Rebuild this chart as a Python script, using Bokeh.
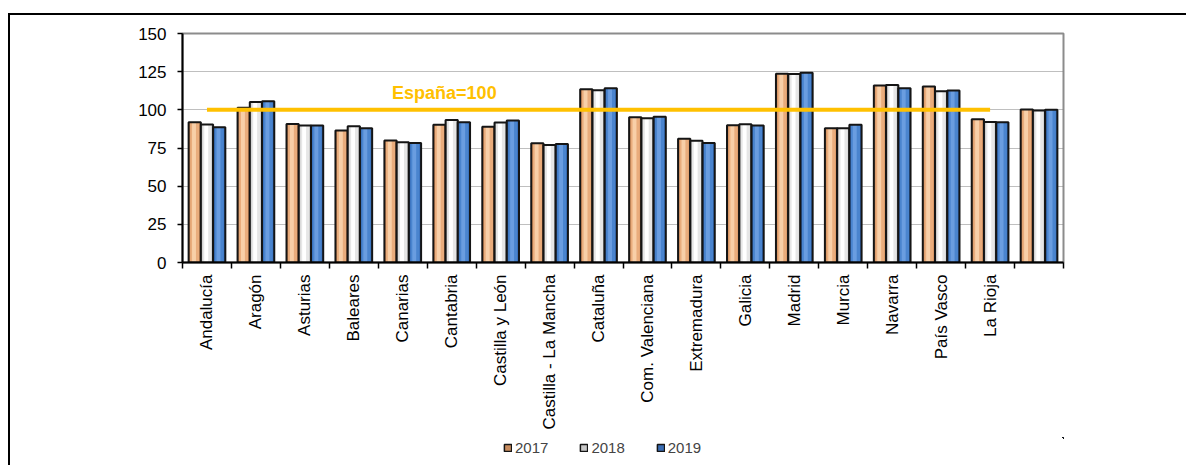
import math
from bokeh.plotting import figure
from bokeh.layouts import column, row
from bokeh.models import (FixedTicker, Legend, LegendItem, Range1d, Label, ColumnDataSource,
                          Spacer)
from bokeh.embed import file_html
from bokeh.resources import INLINE

regions = ["Andalucía", "Aragón", "Asturias", "Baleares", "Canarias", "Cantabria",
           "Castilla y León", "Castilla - La Mancha", "Cataluña", "Com. Valenciana",
           "Extremadura", "Galicia", "Madrid", "Murcia", "Navarra", "País Vasco",
           "La Rioja", ""]
v2017 = [91.9, 101.3, 90.8, 86.4, 79.9, 90.2, 89.0, 78.1, 113.5, 95.2, 81.0, 89.9,
         123.6, 87.9, 116.0, 115.3, 93.8, 100.2]
v2018 = [90.4, 105.2, 89.7, 89.2, 78.7, 93.4, 91.7, 77.0, 112.9, 94.5, 79.7, 90.6,
         123.4, 87.9, 116.2, 112.2, 92.0, 99.6]
v2019 = [88.6, 105.6, 89.7, 87.9, 78.3, 91.9, 93.0, 77.7, 114.2, 95.4, 78.3, 89.7,
         124.3, 90.2, 114.2, 112.7, 91.8, 100.0]
years = ["2017", "2018", "2019"]
y_ticks = [0, 25, 50, 75, 100, 125, 150]
spain_base = 100
spain_label = "España=100"
line_from, line_to = "Andalucía", "La Rioja"

FONT = "Liberation Sans"
n = len(regions)

p = figure(width=1178, height=422, x_range=Range1d(0, n), y_range=Range1d(0, 150),
           output_backend="svg", toolbar_location=None,
           min_border_left=172, min_border_right=125, min_border_top=18,
           min_border_bottom=175)
p.background_fill_color = "white"
p.border_fill_color = "white"
p.outline_line_color = "#8c8c8c"
p.outline_line_width = 2

# axes
xa = p.xaxis[0]
xa.ticker = FixedTicker(ticks=[i + 0.5 for i in range(n)], minor_ticks=list(range(n + 1)))
xa.major_label_overrides = {i + 0.5: name for i, name in enumerate(regions)}
xa.major_tick_out = 0
xa.major_tick_in = 0
xa.minor_tick_out = 6
xa.minor_tick_in = 0
xa.minor_tick_line_color = "black"
xa.minor_tick_line_width = 1.5
xa.axis_line_color = "black"
xa.axis_line_width = 2
xa.major_label_orientation = math.pi / 2
xa.major_label_standoff = 6
xa.major_label_text_font = FONT
xa.major_label_text_font_size = "17px"
xa.major_label_text_color = "black"

ya = p.yaxis[0]
ya.ticker = FixedTicker(ticks=y_ticks, minor_ticks=[])
ya.major_tick_out = 5
ya.major_tick_in = 0
ya.major_tick_line_color = "black"
ya.major_tick_line_width = 1.5
ya.axis_line_color = "black"
ya.axis_line_width = 2
ya.major_label_standoff = 11
ya.major_label_text_font = FONT
ya.major_label_text_font_size = "17px"
ya.major_label_text_color = "black"

p.xgrid.visible = False
p.ygrid.ticker = FixedTicker(ticks=y_ticks, minor_ticks=[])
p.ygrid.grid_line_color = "#7f7f7f"
p.ygrid.grid_line_dash = "1 1"
p.ygrid.grid_line_width = 1

# bars
series = [v2017, v2018, v2019]
base_cols = ["#C98452", "#B8B8B8", "#2F64AE"]
mid_cols = ["#E9AC7C", "#E6E6E6", "#4A84CE"]
hi_cols = ["#F8CFA8", "#FFFFFF", "#6A9DE0"]
legend_cols = ["#C98C5E", "#C8C8C8", "#3A6DB4"]
bw = 0.25
sources = []
for k, (vals, yr) in enumerate(zip(series, years)):
    xs = [i + 0.5 + (k - 1) * bw for i in range(n)]
    src = ColumnDataSource(dict(x=xs, top=vals, xh=[x - 0.015 for x in xs]))
    sources.append(src)
    p.vbar(x="x", top="top", width=bw, bottom=0, source=src,
           fill_color=base_cols[k], line_color=None)
    p.vbar(x="x", top="top", width=bw * 0.75, bottom=0, source=src,
           fill_color=mid_cols[k], line_color=None)
    p.vbar(x="xh", top="top", width=bw * 0.32, bottom=0, source=src,
           fill_color=hi_cols[k], line_color=None)
    p.vbar(x="x", top="top", width=bw, bottom=0, source=src,
           fill_color=None, line_color="#151515", line_width=2)

# España = 100 line
i0 = regions.index(line_from) + 0.5
i1 = regions.index(line_to) + 0.5
p.line(x=[i0, i1], y=[spain_base, spain_base], line_color="#FFC000", line_width=4)
p.add_layout(Label(x=5.35, y=spain_base + 11, text=spain_label, text_font=FONT,
                   text_font_style="bold", text_font_size="18px", text_color="#FFC000",
                   text_align="center", text_baseline="middle"))

# legend strip below the chart (its ranges keep the bars themselves out of view)
p2 = figure(width=1178, height=30, x_range=Range1d(-30, -20), y_range=Range1d(-30, -20),
            output_backend="svg", toolbar_location=None,
            min_border_left=0, min_border_right=0, min_border_top=0, min_border_bottom=0)
p2.axis.visible = False
p2.grid.visible = False
p2.outline_line_color = None
p2.background_fill_color = "white"
p2.border_fill_color = "white"
items = []
for k, yr in enumerate(years):
    r = p2.vbar(x="x", top="top", width=bw, bottom=0, source=sources[k],
                fill_color=legend_cols[k], line_color="#151515", line_width=1.5)
    items.append(LegendItem(label=yr, renderers=[r]))
legend = Legend(items=items, orientation="horizontal", location=(321, 11),
                glyph_width=9, glyph_height=9, label_text_font=FONT,
                label_text_font_size="15px", label_standoff=3, spacing=31,
                padding=0, margin=0, border_line_color=None,
                background_fill_alpha=0, label_height=15)
p2.add_layout(legend, "center")

inner = column(p, p2, spacing=0, styles={"box-shadow": "-2px -2px 0px 0px black"})
layout = column(Spacer(height=15), row(Spacer(width=10), inner, spacing=0), spacing=0)
open("out.html", "w").write(file_html(layout, INLINE))
